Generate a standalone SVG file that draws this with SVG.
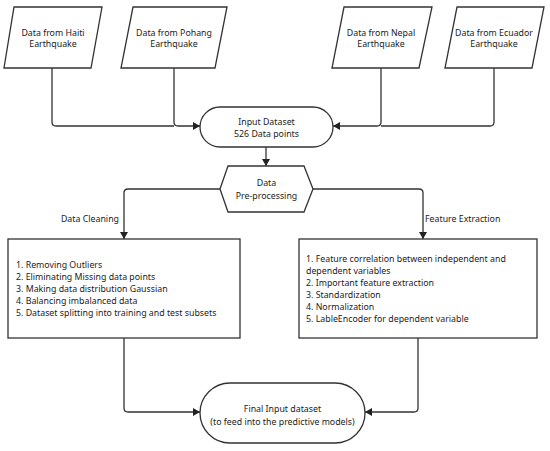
<svg xmlns="http://www.w3.org/2000/svg" width="550" height="451" viewBox="0 0 550 451">
<style>
.s{fill:#fff;stroke:#333;stroke-width:1.3}
.c{fill:none;stroke:#333;stroke-width:1.3;marker-end:url(#ah)}
.l{fill:none;stroke:#333;stroke-width:1.3}
text{font-family:"Noto Sans","Open Sans","DejaVu Sans",sans-serif;font-size:8.8px;fill:#222}
.m{text-anchor:middle}
</style>
<defs>
<marker id="ah" markerWidth="8" markerHeight="8" refX="7" refY="4" orient="auto" markerUnits="userSpaceOnUse">
<path d="M0,0 L7,4 L0,8 Z" fill="#222"/>
</marker>
</defs>
<rect width="550" height="451" fill="#fff"/>
<g id="connectors">
<path class="l" d="M52,68 V122 Q52,126 56,126 H174"/>
<path class="c" d="M174,68 V122 Q174,126 178,126 H200"/>
<path class="l" d="M494,68 V122 Q494,126 490,126 H381"/>
<path class="c" d="M381,68 V122 Q381,126 377,126 H333"/>
<path class="c" d="M266,147 V166"/>
<path class="c" d="M220,189 H128 Q124,189 124,193 V239"/>
<path class="c" d="M313,189 H419 Q423,189 423,193 V239"/>
<path class="c" d="M124,338 V408 Q124,412 128,412 H200"/>
<path class="c" d="M418,338 V408 Q418,412 414,412 H365"/>
<text x="119" y="222" text-anchor="end">Data Cleaning</text>
<text x="425" y="222">Feature Extraction</text>
</g>
<g id="haiti">
<polygon class="s" points="14,7 102,7 91,68 4,68"/>
<text class="m" x="53" y="36">Data from Haiti</text>
<text class="m" x="53" y="47">Earthquake</text>
</g>
<g id="pohang">
<polygon class="s" points="133,7 227,7 215,68 121,68"/>
<text class="m" x="174" y="36">Data from Pohang</text>
<text class="m" x="174" y="47">Earthquake</text>
</g>
<g id="nepal">
<polygon class="s" points="344,7 432,7 419,68 332,68"/>
<text class="m" x="381" y="36">Data from Nepal</text>
<text class="m" x="381" y="47">Earthquake</text>
</g>
<g id="ecuador">
<polygon class="s" points="457,7 544,7 532,68 445,68"/>
<text class="m" x="494" y="36">Data from Ecuador</text>
<text class="m" x="494" y="47">Earthquake</text>
</g>
<g id="input">
<rect class="s" x="200" y="107" width="133" height="40" rx="20" ry="20"/>
<text class="m" x="266.5" y="125">Input Dataset</text>
<text class="m" x="266.5" y="137">526 Data points</text>
</g>
<g id="preprocess">
<polygon class="s" points="228,166 304,166 313,189 304,212 228,212 220,189"/>
<text class="m" x="266.5" y="186">Data</text>
<text class="m" x="266.5" y="199">Pre-processing</text>
</g>
<g id="cleaning">
<rect class="s" x="8" y="239" width="232" height="99"/>
<text x="16" y="268">1. Removing Outliers</text>
<text x="16" y="280">2. Eliminating Missing data points</text>
<text x="16" y="292">3. Making data distribution Gaussian</text>
<text x="16" y="304">4. Balancing imbalanced data</text>
<text x="16" y="316">5. Dataset splitting into training and test subsets</text>
</g>
<g id="features">
<rect class="s" x="299" y="239" width="238" height="99"/>
<text x="306" y="262">1. Feature correlation between independent and</text>
<text x="306" y="274">dependent variables</text>
<text x="306" y="286">2. Important feature extraction</text>
<text x="306" y="298">3. Standardization</text>
<text x="306" y="310">4. Normalization</text>
<text x="306" y="322">5. LableEncoder for dependent variable</text>
</g>
<g id="final">
<rect class="s" x="200" y="383" width="165" height="60" rx="30" ry="30"/>
<text class="m" x="282.5" y="412">Final Input dataset</text>
<text class="m" x="282.5" y="425">(to feed into the predictive models)</text>
</g>
</svg>
